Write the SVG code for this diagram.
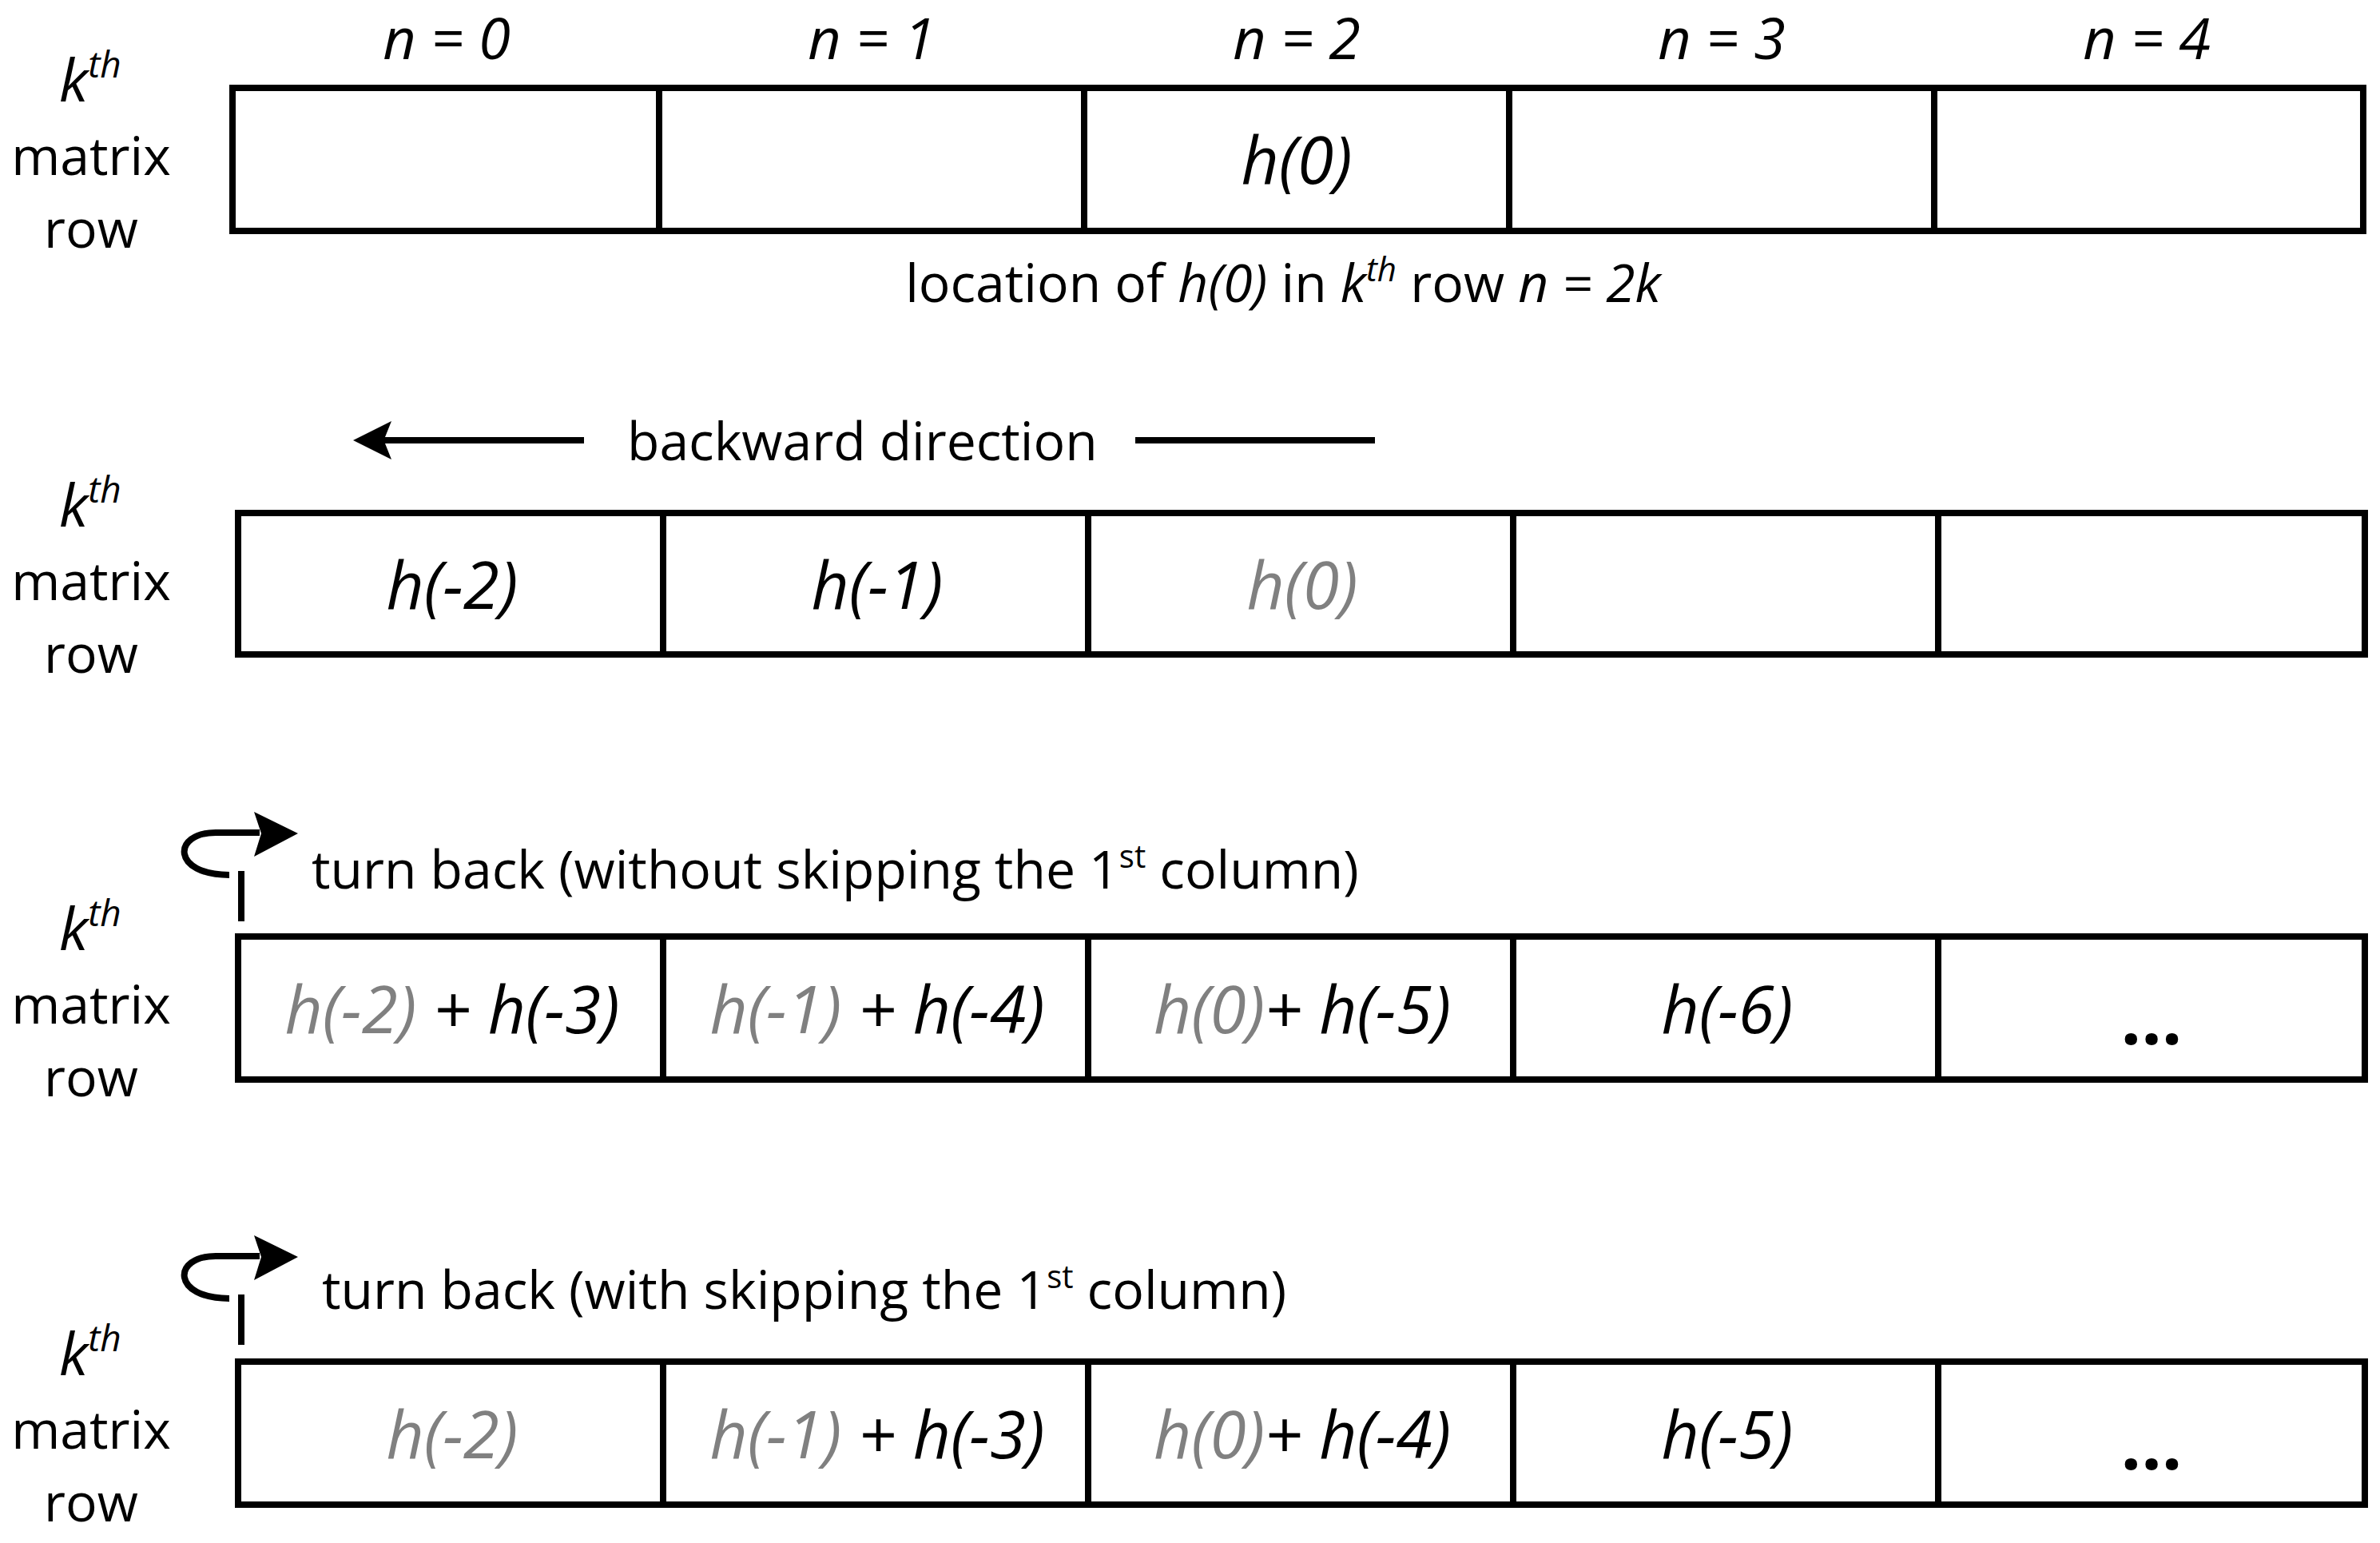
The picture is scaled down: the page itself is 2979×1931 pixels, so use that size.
<svg xmlns="http://www.w3.org/2000/svg" width="2979" height="1931" viewBox="0 0 2979 1931">
<style>
text{font-family:"Open Sans","Liberation Sans",sans-serif;fill:#000}
.lbl{font-size:66px;text-anchor:middle}
.hd{font-size:72px;font-style:italic;text-anchor:middle}
.c{font-size:82px;font-style:italic;text-anchor:middle}
.g{fill:#808080}
.t{font-size:66px}
.dots{font-size:90px;font-weight:bold;text-anchor:middle}
.box{fill:#fff;stroke:#000;stroke-width:8}
.ln{stroke:#000;stroke-width:8;fill:none}
</style>
<defs>
<marker id="ah" markerWidth="6" markerHeight="6" refX="5" refY="3" orient="auto" markerUnits="strokeWidth"><path d="M0,0 L6,3 L0,6 L1.2,3 Z" fill="#000"/></marker>
<g id="side"><text x="74" y="0" style="font-size:74px;font-style:italic">k<tspan dy="-30" font-size="46">th</tspan></text><text class="lbl" x="114" y="92">matrix</text><text class="lbl" x="114" y="183">row</text></g>
<g id="turn"><path class="ln" d="M302,1153 V1090"/><path class="ln" d="M287,1095 C215,1095 215,1042 270,1042 H325"/><path d="M318,1016 L373,1043 L318,1072 L327,1043 Z"/></g>
</defs>
<g id="headers">
<text class="hd" x="559" y="74">n = 0</text><text class="hd" x="1091" y="74">n = 1</text><text class="hd" x="1623" y="74">n = 2</text><text class="hd" x="2155" y="74">n = 3</text><text class="hd" x="2687" y="74">n = 4</text>
</g>
<g id="row1">
<use href="#side" y="127"/>
<rect class="box" x="291" y="110" width="2667" height="179"/>
<path class="ln" d="M825,110V289M1357,110V289M1889,110V289M2421,110V289"/>
<text class="c" x="1623" y="230">h(0)</text>
<text class="t" x="1606" y="378" text-anchor="middle">location of <tspan font-style="italic">h(0)</tspan> in <tspan font-style="italic">k</tspan><tspan font-style="italic" font-size="42" dy="-26">th</tspan><tspan dy="26"> row </tspan><tspan font-style="italic">n = 2k</tspan></text>
</g>
<g id="connectors">
<line class="ln" x1="731" y1="551" x2="450" y2="551" marker-end="url(#ah)"/>
<line class="ln" x1="1421" y1="551" x2="1721" y2="551"/>
</g>
<text class="t" x="785" y="576">backward direction</text>
<g id="row2">
<use href="#side" y="659"/>
<rect class="box" x="298" y="642" width="2662" height="177"/>
<path class="ln" d="M830,642V819M1362,642V819M1894,642V819M2426,642V819"/>
<text class="c" x="566" y="762">h(-2)</text><text class="c" x="1098" y="762">h(-1)</text><text class="c g" x="1630" y="762">h(0)</text>
</g>
<g id="row3">
<use href="#turn"/>
<text class="t" x="390" y="1112">turn back (without skipping the 1<tspan font-size="40" dy="-26">st</tspan><tspan dy="26"> column)</tspan></text>
<use href="#side" y="1189"/>
<rect class="box" x="298" y="1172" width="2662" height="179"/>
<path class="ln" d="M830,1172V1351M1362,1172V1351M1894,1172V1351M2426,1172V1351"/>
<text class="c" x="566" y="1293"><tspan class="g">h(-2)</tspan> + h(-3)</text>
<text class="c" x="1098" y="1293"><tspan class="g">h(-1)</tspan> + h(-4)</text>
<text class="c" x="1630" y="1293"><tspan class="g">h(0)</tspan>+ h(-5)</text>
<text class="c" x="2162" y="1293">h(-6)</text>
<text class="dots" x="2693" y="1307">...</text>
</g>
<g id="row4">
<use href="#turn" y="530"/>
<text class="t" x="403" y="1638">turn back (with skipping the 1<tspan font-size="40" dy="-26">st</tspan><tspan dy="26"> column)</tspan></text>
<use href="#side" y="1721"/>
<rect class="box" x="298" y="1704" width="2662" height="179"/>
<path class="ln" d="M830,1704V1883M1362,1704V1883M1894,1704V1883M2426,1704V1883"/>
<text class="c g" x="566" y="1825">h(-2)</text>
<text class="c" x="1098" y="1825"><tspan class="g">h(-1)</tspan> + h(-3)</text>
<text class="c" x="1630" y="1825"><tspan class="g">h(0)</tspan>+ h(-4)</text>
<text class="c" x="2162" y="1825">h(-5)</text>
<text class="dots" x="2693" y="1839">...</text>
</g>
</svg>
